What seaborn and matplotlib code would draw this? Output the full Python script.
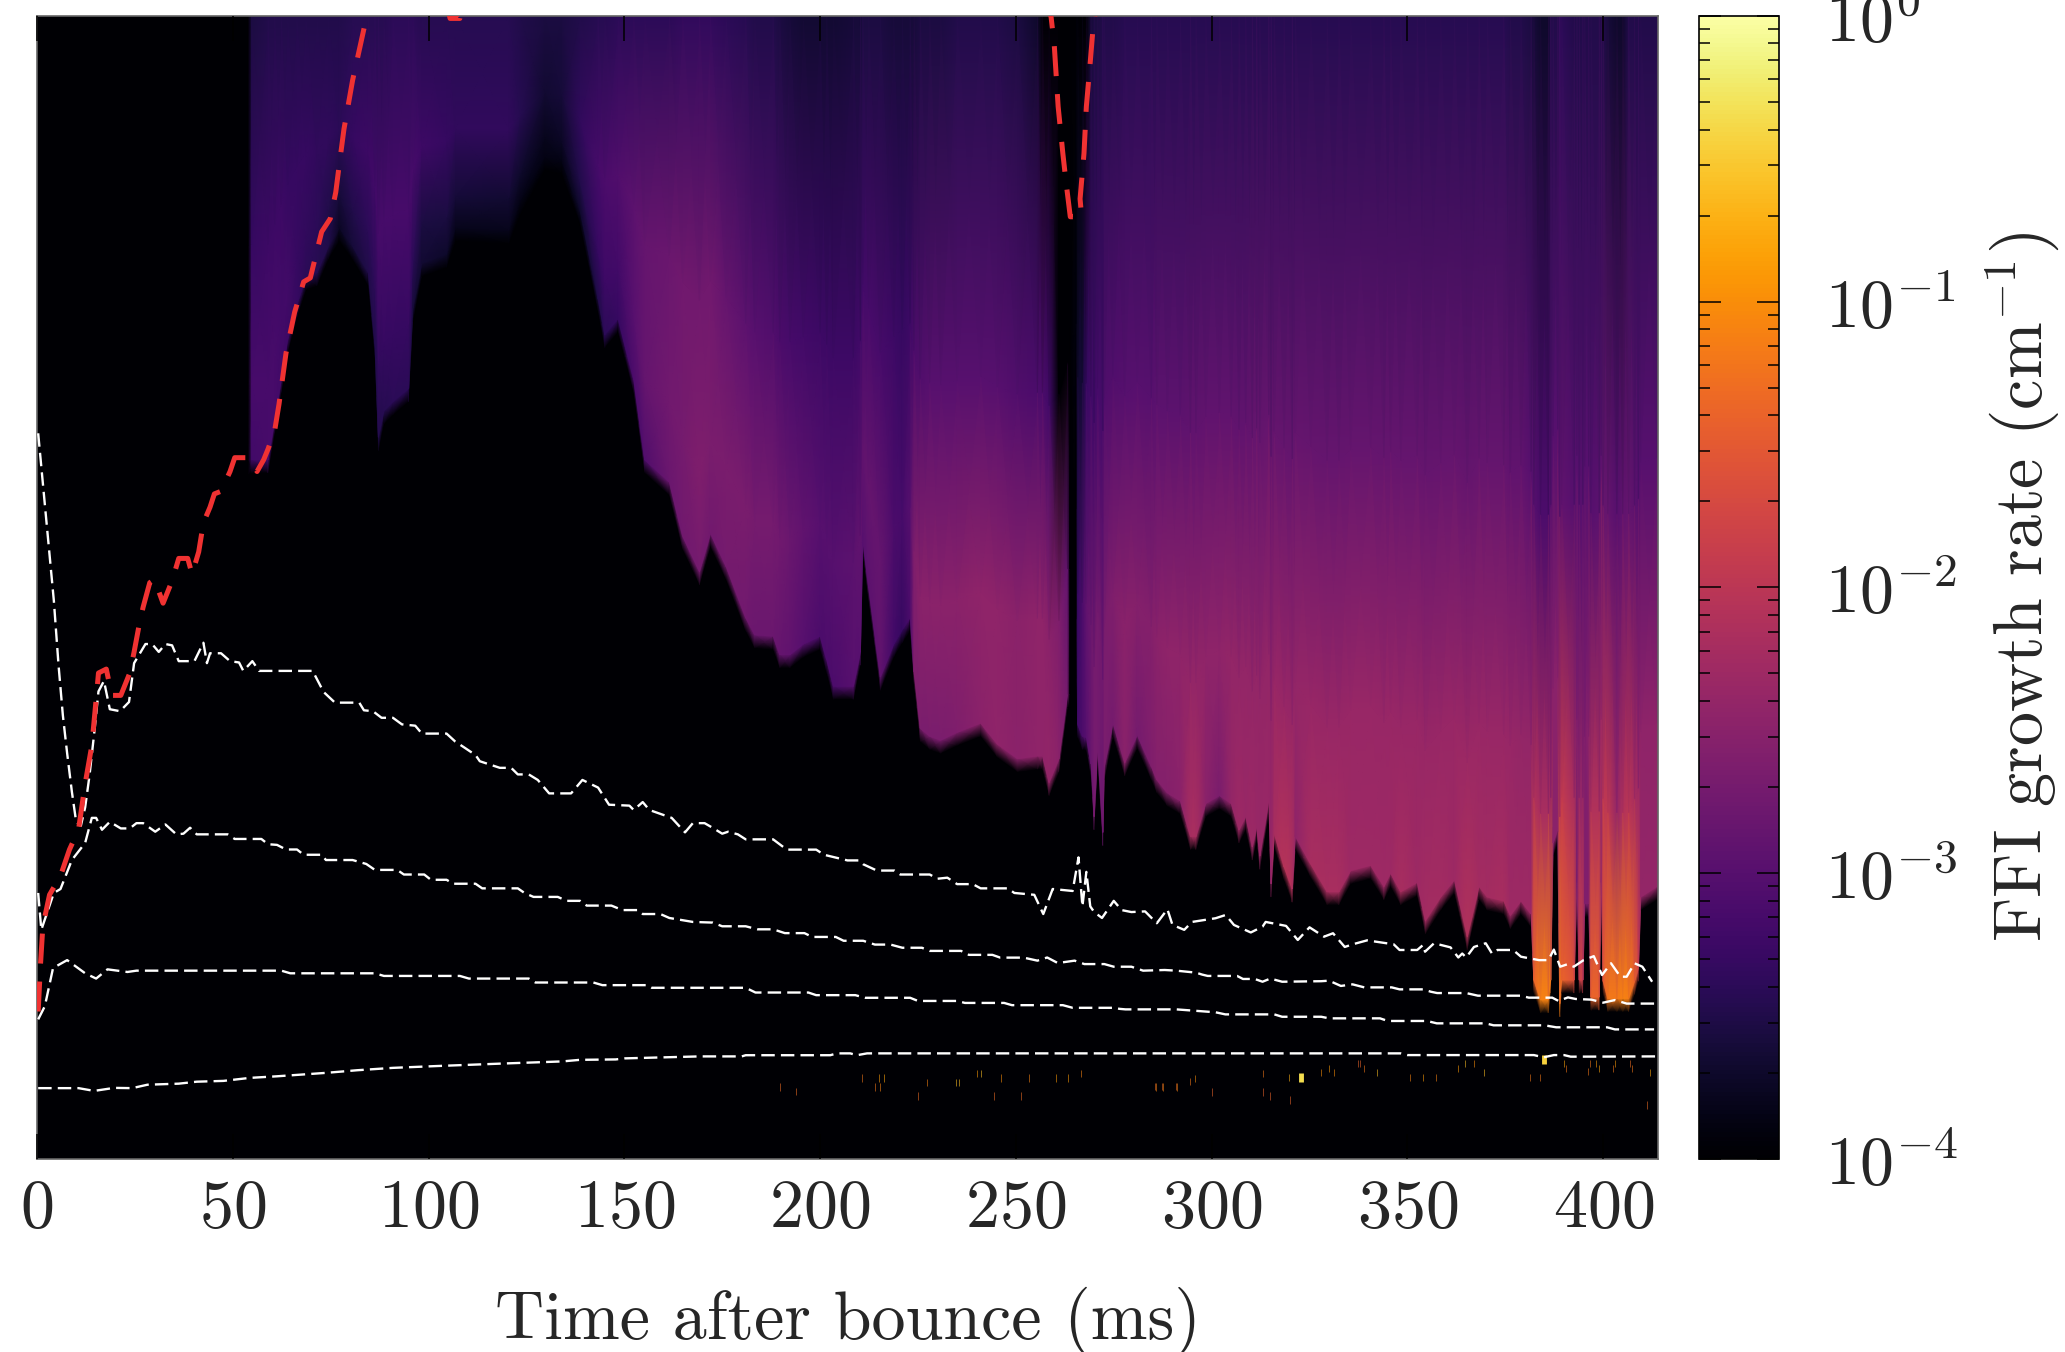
import numpy as np
import matplotlib
matplotlib.use("Agg")
import matplotlib.pyplot as plt
from matplotlib.colors import LogNorm
from matplotlib.ticker import LogLocator
import seaborn as sns

# ---- heat-map knots: time (ms), lower edge of the unstable region, log10 growth rate at four heights
knot_t = [0,54.0,54.8,59,60.7,62.4,64,66.4,68.7,71.5,
 74.4,77.2,80.6,84.6,86.3,87.2,88.6,90.9,94.9,96,
 98.3,104.6,106.9,120.5,123.4,129.7,134,138.7,143.3,145,
 148.4,152.4,155.2,161.5,164.9,169.2,172,176,181,183.3,
 188,189.7,192.3,195.7,200,201.7,203.4,208.5,210.3,210.9,
 212.4,215.4,218.8,221,223,224,225.6,228,230.8,235,
 241,245.3,250.4,255.5,256.8,258.5,261,263.2,263.8,265.4,
 265.8,267,268,269.2,270,270.9,272.2,272.6,274.8,277.8,
 281,284.6,286,288.7,292,294.6,296,298.5,302,305,
 307,308.7,310.4,311.5,312.3,314.6,315.2,316,318.5,320.6,
 321.4,325.3,329.5,332.5,335.5,340.6,344,345.7,348.3,352.5,
 354.6,358.5,362,365.3,368.3,370.4,374.6,376.3,379,381.6,
 382.3,384,386,386.6,387.2,388.4,388.9,389.4,392.6,393.3,
 393.9,394.8,395.3,396.3,396.9,399,399.5,400,401.2,403.5,
 405,406.5,408,409,409.6,413.8,415]
knot_edge = [600,520,521,521,551,582,612,639,660,663,
 683,697,683,663,609,538,558,565,575,636,
 670,677,697,695,717,751,748,710,643,616,
 628,582,521,504,463,436,465,440,401,388,
 387,373,373,381,387,369,349,349,375,460,
 424,356,381,392,401,360,317,311,308,314,
 321,305,294,296,296,276,294,343,343,400,
 320,311,310,290,250,302,238,288,321,291,
 312,288,278,268,262,235,235,260,266,260,
 240,250,227,242,220,262,199,237,212,195,
 235,214,193,193,209,213,197,207,193,200,
 171,189,202,159,197,189,186,175,186,176,
 126,111,111,126,230,240,108,126,126,200,
 126,126,184,184,113,113,200,125,112,112,
 112,112,125,135,189,197,190]
log_low = [-5,-5,-3.2,-3.15,-3.15,-3.2,-3.25,-3.3,-3.4,-3.45,
 -3.5,-3.75,-3.6,-3.5,-3.5,-3.5,-3.45,-3.4,-3.4,-3.6,
 -3.65,-3.7,-3.8,-3.8,-3.85,-3.85,-3.85,-3.7,-3.5,-3.4,
 -3.3,-3.1,-3.05,-2.8,-2.75,-2.7,-2.75,-2.7,-2.75,-2.8,
 -2.8,-2.85,-2.9,-3.0,-3.1,-3.1,-3.1,-3.0,-3.0,-3.0,
 -2.95,-2.9,-3.2,-3.3,-3.1,-2.6,-2.65,-2.65,-2.65,-2.6,
 -2.5,-2.45,-2.5,-2.45,-2.45,-2.4,-2.5,-2.7,-5,-5,
 -3.2,-3.1,-3.0,-2.8,-2.7,-2.7,-2.8,-2.65,-2.7,-2.5,
 -2.7,-2.6,-2.55,-2.55,-2.5,-2.2,-2.2,-2.5,-2.65,-2.4,
 -2.3,-2.35,-2.3,-2.35,-2.35,-2.35,-2.4,-2.2,-2.05,-2.1,
 -2.45,-2.2,-2.2,-2.2,-2.3,-2.3,-2.3,-2.3,-2.2,-2.3,
 -2.25,-2.25,-2.3,-2.1,-2.25,-2.25,-2.2,-2.3,-2.3,-2.3,
 -1.4,-1.1,-1.1,-1.2,-2.5,-2.5,-1.1,-1.4,-1.6,-2.7,
 -1.8,-1.8,-2.6,-2.6,-1.4,-1.4,-2.5,-1.5,-1.2,-1.2,
 -1.1,-1.15,-1.4,-1.8,-2.4,-2.4,-2.4]
log_quarter = [-5,-5,-3.15,-3.15,-3.15,-3.2,-3.2,-3.3,-3.35,-3.4,
 -3.5,-3.6,-3.5,-3.4,-3.4,-3.35,-3.3,-3.3,-3.3,-3.4,
 -3.55,-3.55,-3.6,-3.65,-3.7,-3.8,-3.75,-3.5,-3.3,-3.25,
 -3.2,-3.0,-2.85,-2.75,-2.7,-2.6,-2.65,-2.65,-2.65,-2.7,
 -2.7,-2.75,-2.8,-2.9,-3.0,-3.0,-3.0,-2.95,-2.9,-2.9,
 -2.85,-2.85,-3.1,-3.15,-3.0,-2.6,-2.5,-2.5,-2.5,-2.5,
 -2.45,-2.45,-2.5,-2.45,-2.45,-2.5,-2.6,-2.9,-5,-5,
 -3.3,-3.1,-2.9,-2.8,-2.7,-2.7,-2.75,-2.65,-2.6,-2.5,
 -2.55,-2.55,-2.5,-2.45,-2.45,-2.4,-2.4,-2.45,-2.45,-2.4,
 -2.4,-2.4,-2.4,-2.4,-2.4,-2.4,-2.4,-2.35,-2.35,-2.35,
 -2.4,-2.35,-2.35,-2.35,-2.35,-2.35,-2.35,-2.35,-2.35,-2.35,
 -2.35,-2.35,-2.35,-2.3,-2.35,-2.35,-2.35,-2.35,-2.4,-2.4,
 -2.1,-2.2,-2.2,-2.3,-2.5,-2.5,-2.0,-1.9,-2.2,-2.6,
 -2.4,-2.4,-2.6,-2.5,-2.1,-2.1,-2.3,-2.0,-1.95,-2.4,
 -2.1,-2.0,-2.2,-2.3,-2.45,-2.45,-2.45]
log_mid = [-5,-5,-3.3,-3.25,-3.25,-3.25,-3.3,-3.3,-3.3,-3.35,
 -3.35,-3.4,-3.3,-3.25,-3.2,-3.15,-3.15,-3.15,-3.15,-3.15,
 -3.25,-3.3,-3.35,-3.35,-3.45,-3.65,-3.6,-3.35,-3.15,-3.1,
 -3.05,-2.95,-2.85,-2.8,-2.75,-2.75,-2.75,-2.85,-2.95,-3.0,
 -3.05,-3.1,-3.15,-3.2,-3.25,-3.25,-3.25,-3.25,-3.2,-3.2,
 -3.15,-3.15,-3.25,-3.3,-3.25,-3.1,-3.05,-3.0,-3.0,-3.0,
 -3.0,-3.0,-3.05,-3.1,-3.1,-3.2,-5,-5,-5,-3.9,
 -3.7,-3.6,-3.3,-3.2,-3.2,-3.15,-3.15,-3.05,-3.05,-3.0,
 -3.0,-3.0,-2.95,-2.95,-2.95,-2.9,-2.9,-2.9,-2.9,-2.9,
 -2.9,-2.9,-2.85,-2.85,-2.85,-2.85,-2.85,-2.85,-2.85,-2.85,
 -2.85,-2.85,-2.85,-2.85,-2.85,-2.85,-2.85,-2.85,-2.85,-2.85,
 -2.85,-2.85,-2.85,-2.85,-2.85,-2.85,-2.85,-2.9,-2.9,-3.0,
 -3.0,-3.1,-3.1,-3.0,-3.0,-3.0,-2.9,-2.9,-3.0,-3.0,
 -3.0,-3.0,-3.0,-3.0,-3.0,-2.95,-2.95,-2.85,-2.85,-3.0,
 -2.9,-2.85,-2.95,-3.0,-3.0,-3.0,-3.0]
log_top = [-5,-5,-3.55,-3.5,-3.5,-3.5,-3.5,-3.5,-3.5,-3.5,
 -3.5,-3.5,-3.45,-3.45,-3.45,-3.45,-3.45,-3.4,-3.4,-3.4,
 -3.45,-3.45,-3.45,-3.45,-3.5,-3.55,-3.55,-3.5,-3.45,-3.45,
 -3.4,-3.4,-3.4,-3.4,-3.35,-3.35,-3.35,-3.4,-3.45,-3.5,
 -3.5,-3.55,-3.6,-3.65,-3.65,-3.65,-3.65,-3.6,-3.6,-3.55,
 -3.55,-3.55,-3.6,-3.6,-3.6,-3.6,-3.55,-3.55,-3.55,-3.5,
 -3.5,-3.5,-3.55,-3.7,-4.0,-4.6,-5,-5,-5,-4.6,
 -4.2,-4.2,-4.0,-3.6,-3.55,-3.55,-3.5,-3.5,-3.5,-3.45,
 -3.45,-3.45,-3.45,-3.45,-3.45,-3.45,-3.45,-3.45,-3.45,-3.45,
 -3.45,-3.45,-3.45,-3.45,-3.45,-3.45,-3.45,-3.45,-3.45,-3.45,
 -3.45,-3.45,-3.45,-3.45,-3.45,-3.45,-3.45,-3.45,-3.45,-3.45,
 -3.45,-3.45,-3.45,-3.45,-3.45,-3.45,-3.45,-3.5,-3.5,-3.55,
 -3.6,-3.7,-3.7,-3.5,-3.5,-3.5,-3.4,-3.4,-3.5,-3.5,
 -3.5,-3.5,-3.5,-3.5,-3.5,-3.5,-3.5,-3.5,-3.6,-3.7,
 -3.7,-3.5,-3.5,-3.5,-3.5,-3.5,-3.5]

# ---- small isolated specks below the lowest curve
speck_t = [285.5,287.4,290.8,294.5,295.7,300,313,313,315,319.7,320,322.9,328,330,331.2,
 337.4,338,339,342.3,350.6,354,357.4,363,364.6,367,369.5,381.3,383.8,385,390,390.5,
 396,396.6,398.2,399,403,402.6,406.8,407.4,411.9,411.2,
 189.7,193.8,210.7,215,216.4,214,215.4,225,227.4,234.6,235.5,240,241,244.4,246.3,
 251.3,253.3,260.3,263.2,266.7,285.7,287.6,291.2]
speck_h = [54.9,54.9,54.9,58.7,61.2,51,65,51,47.8,61.7,44.8,61.7,65.5,68.8,65.5,
 72.6,72.6,68.8,65.5,61.7,61.7,61.7,68.8,72.6,72.6,65.5,61.7,61.7,75.7,72.6,68.8,
 66.3,72.6,72.6,68.8,72.6,68.8,72.6,68.8,65.5,41,
 54.6,51.4,61.6,61.6,61.6,54.6,54.6,47.7,58.1,58.1,58.1,64.8,64.8,47.7,61.6,
 47.7,61.6,61.6,61.6,64.8,54.6,54.6,54.6]
speck_log = [-1.3,-1.3,-1.3,-1.2,-1.0,-1.4,-1.2,-1.4,-1.4,-0.7,-1.4,-0.35,-1.0,-0.9,-1.0,
 -1.4,-1.4,-1.2,-0.6,-1.1,-0.9,-1.1,-0.9,-0.6,-1.0,-0.6,-1.2,-1.2,-0.45,-0.8,-1.2,
 -1.2,-1.2,-0.9,-0.8,-0.9,-1.2,-1.3,-1.2,-0.8,-1.3,
 -1.3,-1.3,-1.2,-0.9,-0.8,-1.2,-1.1,-1.3,-1.1,-0.6,-0.6,-0.9,-0.6,-1.3,-1.0,
 -1.3,-1.1,-0.9,-0.9,-1.1,-1.1,-1.1,-1.1]
speck_big = [0,0,0,0,0,0,0,0,0,0,0,1,0,0,0,0,0,0,0,0,0,0,0,0,0,0,0,0,1,0,0,0,0,0,0,0,0,0,0,0,0,
 0,0,0,0,0,0,0,0,0,0,0,0,0,0,0,0,0,0,0,0,0,0,0]

# ---- curves: time (ms) and height
c1_t = [0.3,10.6,14.6,19.7,24.3,28.2,36.2,40.8,47.6,54.4,61.3,73.8,81.8,90.9,102.3,118.2,134.2,138.7,147.8,150.1,169.2,
 180,181,202.6,204.3,207.7,209.4,212,292,348.3,350,382.3,384.8,387.4,390,391.7,413.8]
c1_h = [53.8,53.8,51.7,54,53.8,56.4,57.2,58.7,59.3,61.6,62.8,65.4,67.4,69.2,70.6,72.4,74.1,75.3,75.6,76.4,77.9,
 77.9,78.8,78.8,80.2,80.2,78.8,80.2,80.2,80.2,78.9,78.9,77.2,78.9,78.9,77.7,77.9]

c2_t = [0.3,2,4.1,7.7,12.3,15.1,18,23.1,25.4,62.4,64.7,86.3,88.6,108,110.3,125.6,127.3,142.1,144.4,155.8,157,
 181,183.5,197,199,209,211.5,223,225,235,237,247,249,262,264.5,275,276.5,278,291,
 301,303.5,316,318,328,330,343,345,355,357.5,370,372,385,388,401,403,413]
c2_h = [106,116,145,151,141,137,144,142,143,143,141,141,139,139,137,137,134,134,132,132,130,
 130,126.4,126.4,124.4,124.4,122.4,122.4,120,120,118.5,118.5,116.8,116.8,114.8,114.8,114,113.6,113.6,
 111.4,109.8,109.8,108,108,106.8,106.8,104.8,104.8,103,103,101.5,101.5,100,100,98.4,98.4]

c3_t = [0.3,1.1,4.3,6,8.9,12.3,14,15.1,16.6,18.6,21.4,23.7,25.4,27.1,30.2,32.8,35.6,37.4,39.1,40.8,48.7,50.5,57.3,59,61.3,63.6,66.4,68.1,72.7,73.8,80.6,84.1,86.3,92,93.7,98.9,100.6,104.6,106.3,112,113.7,122.8,124.5,126.8,133,135.3,138.7,140.4,146.7,149.5,153.5,154.7,159.2,161.5,
 167.5,172.6,175,181,184,188,191,196,198,204,206,211,214,218,221,226,228,236,238,244,246,252,255.5,258,260.7,265,267.5,272.6,275,279.5,282.5,
 288,291,296,297.6,299,306.5,308,311,313,315,318,328,330,333,336,339,346,348,354,356,357.6,365,368,379,381,387,388.6,391,393,397,400,403,406,413]
c3_h = [202,174,202,205,227,240,259,259,250,256,251,251,255,255,248.5,254,246.5,247,251.5,246.5,246.5,243,243,239,238.5,235,235,231,231,227,227,224,219.5,219.5,216,216,212,212,209,209,205.5,205.5,202,199,199,196,196,192.4,192.4,189,189,186,186,183,
 180,179.5,176.7,176.7,174.4,174.4,171.5,171.5,168.6,168.6,165.7,165.7,162.8,162.8,160.4,160.4,158,158,155,155,152.9,152.9,150.6,153,148.8,150.6,148,148,146,146,143,
 143.5,143,141.5,140,139,139,136.7,136.7,134.6,137,134.6,135,135.4,131.4,132.6,130.3,130.3,128.8,128.8,127,126,126,124,124,122.5,122.5,120,122.7,121.5,121,118.7,120.7,118,118]

c4_t = [0.3,4.3,5.5,6.6,7.7,8.9,10,11.2,12.3,13.4,14.6,15.7,17.1,18.6,21.2,23.5,24.8,27.7,29.4,31.1,32.8,34.5,36.2,40.2,42.5,43.4,44.2,47,49.3,51.6,52.7,55,56.7,70.4,73.2,76.1,82.3,83.5,85.8,88,90.9,93.2,96.6,98.3,104.6,106.8,109.1,112,113.1,118.2,121.1,122.8,125.6,127.9,130.8,136.4,139.3,143.3,146.1,151.3,152.4,154.7,156.4,162.1,165.5,
 167.5,170.5,172.6,175,176.5,179,181,188,191.5,199,201,207,210,211,214.5,219,220.5,228,230,232.5,235,239,241,248,249.6,254.7,257,259.4,264.5,266,267,268,269,270,272,275,277,279.5,283,
 286,288.7,290,293,295,301,303.6,305.7,310,313,313.8,319,322,325,328.7,331,334,336,339.7,346.5,348,352.5,354,354.5,356.8,361,363,364,365,367,370,371.6,373,377,379,383.6,386,387.4,389,391,392.5,395,397.6,399.7,402,404.4,406,408,410,412.5]
c4_h = [551,424,375,337,308,279,256,253,267,291,323,355,363,341.5,340,347,376.5,391,391,385,391,390,378,378,392,376.5,384,384,378,377,370.6,378,370.6,370.6,354.6,346.5,346.5,340.7,340,335,335,330,329,323,323,317,312.5,306.7,302,297,297,292,292,287.8,277.6,277.6,287.8,282,269,268.3,265,271,265,259,248,
 255,255,251.4,247,248.5,246.5,242.7,242.7,234.9,234.9,231,226.7,226.7,223.8,219,219,216,216,212.8,213.6,208.7,208.7,205.5,205.5,202,200.6,186,205,203.5,229,191.8,218,191.8,187.5,183,196,189,187.5,188,
 179,189.6,177.7,174,180,182.8,185.3,177.7,172,176.4,180,177,166.3,175.9,168.8,171.4,161,163,166,163,158.7,158.7,162.5,157.4,163.8,160.7,153,156,153,161,163.8,156,158.7,158.7,153.6,151,151,159,146,148,146,151,154,139.7,148.6,138.4,138.4,148.6,146,134.6]

red_t = [0.3,0.9,1.5,3.2,6,8.3,10.6,12.3,14,15.1,15.7,17.7,19.1,21.4,23.7,24.8,26,27.1,28.8,30,32.2,34.5,36.2,38.5,39.6,41.3,42.5,44.2,45.3,47,49.3,50.5,53.9,56.2,57.9,59,60.7,61.8,63.6,65.8,68.1,69.8,72.7,74.9,76.3,77.2,78.4,80.6,82.9,84.3,85.5,103,105.5,108,110,256,259,259.8,260.8,262,262.8,263.9,266.8,266.4,267.4,268,269,269.6,270.2,271]
red_h = [112,148,177,200.6,215,235,250,285,314,349,369,372,352,352,369,385,404,419,437.6,440,422,439,456,456,444,461,483,495,505,507,522,532.5,532.5,522,531,539,553,573,612,643,666,669,704,714,734,755,782,819,850,869,900,900,866,866,900,900,867,846,799,763.5,742,715.4,715.4,729,763.5,799,833,854.7,869,900]

xticks = [0,50,100,150,200,250,300,350,400]
cbar_ticks = [1e-4,1e-3,1e-2,1e-1,1e0]
xlabel = "Time after bounce (ms)"
cbar_label = "FFI growth rate (cm$^{-1}$)"

H = 868.0
sns.set_theme(style="ticks")
plt.rcParams.update({"font.family": "cmr10", "mathtext.fontset": "cm",
                     "axes.unicode_minus": False, "axes.formatter.use_mathtext": True})

W, Ht = 2065, 1352
fig = plt.figure(figsize=(W/100, Ht/100), dpi=100)
ax = fig.add_axes([37/W, 1-1159/Ht, (1658-37)/W, (1159-15.8)/Ht])
cax = fig.add_axes([1699/W, 1-1159/Ht, 80/W, (1159-15.8)/Ht])

# Quad mesh whose vertices follow the lower edge of the unstable region
t = np.array(knot_t, float)
e = np.array(knot_edge, float)
rows_y = np.vstack([np.zeros_like(e), e, e+10, e+0.2*(H-e), e+0.5*(H-e), np.full_like(e, H)])
rows_x = np.vstack([t]*6)
black = np.full_like(e, -5.0)
rows_v = np.vstack([black, black, log_low, log_quarter, log_mid, log_top])
norm = LogNorm(1e-4, 1)
cmap = plt.get_cmap("inferno")
ax.set_facecolor(cmap(0.0))
mesh = ax.pcolormesh(rows_x, rows_y, 10.0**rows_v, shading="gouraud", cmap=cmap, norm=norm, zorder=1)

# Specks
for tt, hh, lv, big in zip(speck_t, speck_h, speck_log, speck_big):
    col = cmap(norm(10.0**lv))
    ax.vlines(tt, hh-(3.5 if big else 2.8), hh+(3.5 if big else 2.8), colors=[col], lw=3.5 if big else 0.4, zorder=2)

# Curves
white_ls = (0, (5.7, 2.6))
for tx, hx in [(c1_t, c1_h), (c2_t, c2_h), (c3_t, c3_h), (c4_t, c4_h)]:
    sns.lineplot(x=tx, y=hx, ax=ax, sort=False, estimator=None, color="white", lw=1.7,
                 linestyle=white_ls, zorder=3, legend=False)
sns.lineplot(x=red_t, y=red_h, ax=ax, sort=False, estimator=None, color="#f03232", lw=3.6,
             linestyle=(0, (6.0, 3.6)), zorder=4, legend=False)

ax.set_xlim(0, 414)
ax.set_ylim(0, H)
ax.set_yticks([])
ax.set_xticks(xticks)
ax.set_axisbelow(False)
ax.tick_params(axis="x", direction="in", length=18, width=1.1, top=True, bottom=True,
               labelsize=49, pad=14, color="black")
ax.set_xlabel(xlabel, fontsize=49, labelpad=34)
for s in ax.spines.values():
    s.set_color("#666666")
    s.set_linewidth(1.2)

cb = fig.colorbar(mesh, cax=cax)
cb.set_ticks(cbar_ticks)
cax.set_axisbelow(False)
cax.yaxis.set_minor_locator(LogLocator(base=10, subs=range(2, 10), numticks=12))
cax.tick_params(which="major", direction="in", length=16, width=1.1, left=True, right=True,
                labelsize=49, pad=33, color="black")
cax.tick_params(which="minor", direction="in", length=8, width=1.1, left=True, right=True, color="black")
cb.outline.set_edgecolor("black")
cb.outline.set_linewidth(1.2)
cb.set_label(cbar_label, fontsize=49, labelpad=18)

fig.savefig("out.png", dpi=100)
